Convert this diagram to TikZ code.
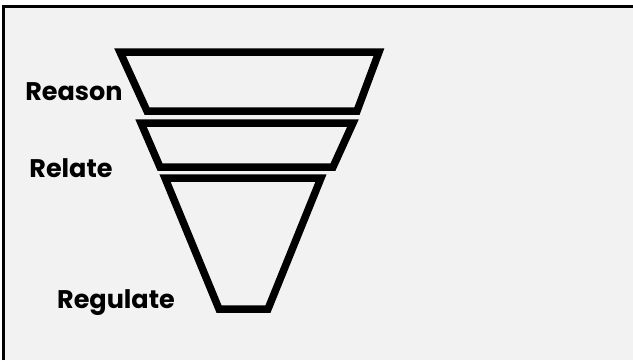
\documentclass[tikz,border=0pt]{standalone}
\usepackage{fontspec}
\setmainfont{Poppins}
\usepackage{tikz}
\definecolor{panel}{HTML}{F2F2F2}

\begin{document}
\begin{tikzpicture}[
        x=1pt, y=-1pt,
        layer/.style={draw=black, line width=7.5pt, line join=miter},
        label/.style={font=\fontsize{25.5}{28}\selectfont\bfseries, text=black, inner sep=0pt}
    ]
    \useasboundingbox (0,0) rectangle (633,360);

    % Panel
    \fill[panel] (3,6) rectangle (633,360);
    \draw[line width=3pt] (3,360) -- (3,6) -- (633,6);

    % Funnel layers
    \draw[layer] (120,52) -- (379,52) -- (357,111) -- (147,111) -- cycle;
    \draw[layer] (141,123) -- (353,123) -- (333,167) -- (160,167) -- cycle;
    \draw[layer] (165,178) -- (321,178) -- (268,309) -- (219,309) -- cycle;

    % Labels
    \node[label, anchor=base] (reason) at (74,100) {Reason};
    \node[label, anchor=base] (relate) at (71,177) {Relate};
    \node[label, anchor=base] (regulate) at (116,308) {Regulate};

\end{tikzpicture}
\end{document}
